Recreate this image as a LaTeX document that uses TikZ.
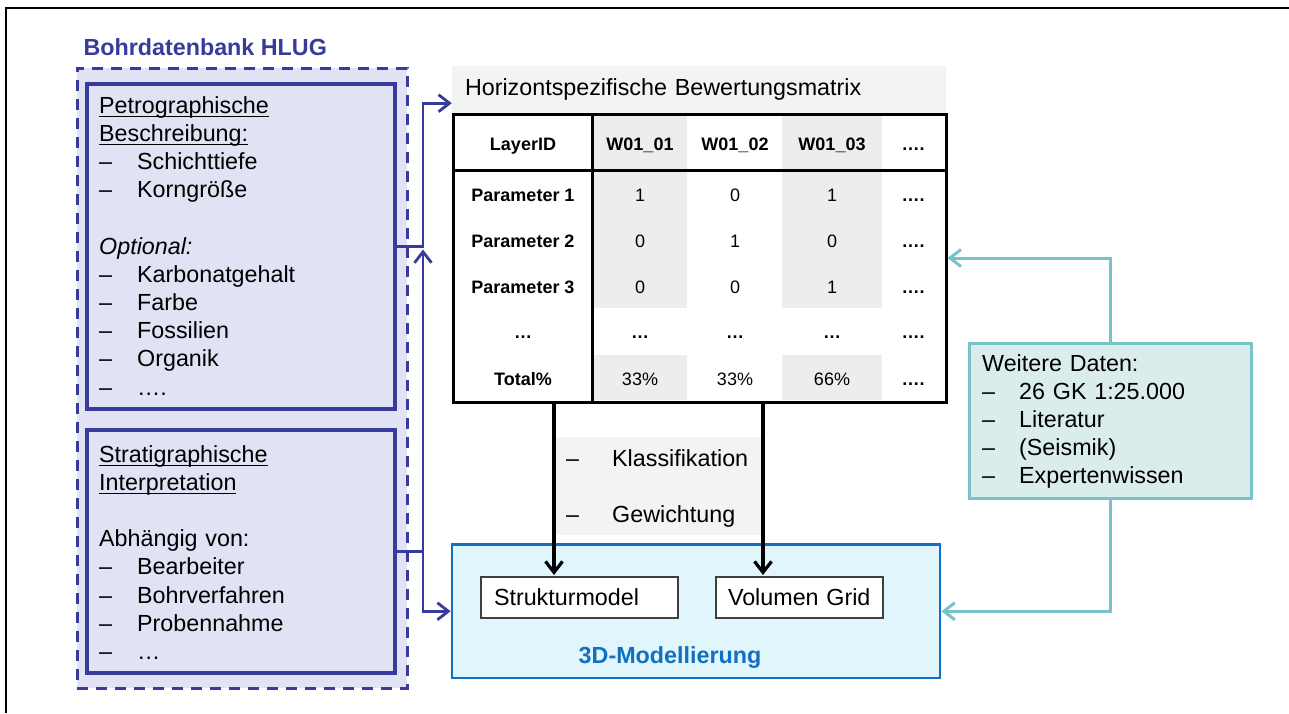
\documentclass[tikz,border=0pt]{standalone}
\usepackage{fontspec}
\setmainfont{Liberation Sans}
\usetikzlibrary{
  arrows.meta,
  calc,
  positioning,
}
\definecolor{hlugblue}{HTML}{383B9C}
\definecolor{hlugfill}{HTML}{E1E2F4}
\definecolor{headgray}{HTML}{F2F4F2}
\definecolor{cellgray}{HTML}{EDEDED}
\definecolor{modblue}{HTML}{1270C0}
\definecolor{modfill}{HTML}{E1F5FC}
\definecolor{datateal}{HTML}{78C3C7}
\definecolor{datafill}{HTML}{DAECEC}
\newcommand\undl[1]{\leavevmode\setbox0\hbox{#1}\rlap{\rule[-3.8pt]{\wd0}{1.3pt}}#1}
\newcommand\dashitem[2][38pt]{\makebox[#1][l]{–}#2}

\begin{document}
\begin{tikzpicture}[x=1pt,y=-1pt,
  font=\fontsize{23.3}{28.2}\selectfont,>={Straight Barb[length=11pt,width=17pt]},
  group/.style={draw=hlugblue,fill=hlugfill,line width=3pt,
    dash pattern=on 11pt off 8pt},
  src/.style={draw=hlugblue,fill=hlugfill,line width=3.3pt},
  txt/.style={anchor=base west,align=left,inner sep=0pt,text width=280pt},
  cell/.style={anchor=base,inner sep=0pt,font=\fontsize{18}{22}\selectfont},
  hcell/.style={cell,font=\fontsize{18}{22}\selectfont\bfseries},
  res/.style={draw=black!75,fill=white,line width=1.5pt,minimum height=41pt,
    align=left},
  link/.style={draw=hlugblue,line width=2.8pt,->},
  feed/.style={draw=datateal,line width=3pt,->},
  flow/.style={draw=black,line width=3.2pt,->}]
  \useasboundingbox (0,0) rectangle (1289,713);
  \draw[line width=2pt] (6,713) -- (6,8) -- (1289,8);
  %%
  \node[group,minimum width=330pt,minimum height=620pt] (bohr) at (242,378) {};
  \node[anchor=base west,text=hlugblue,font=\fontsize{23.3}{28}\selectfont\bfseries]
    (bohrtitle) at (80,55) {Bohrdatenbank HLUG};
  \node[src,minimum width=308pt,minimum height=325pt] (petro) at (241,246.5) {};
  \node[src,minimum width=308pt,minimum height=243pt] (strat) at (241,551.5) {};
  \node[txt] (petrotxt) at (99,113)
    {\undl{Petrographische}\\
     \undl{Beschreibung:}\\
     \dashitem{Schichttiefe}\\
     \dashitem{Korngröße}\\
     \mbox{}\\
     \textit{Optional:}\\
     \dashitem{Karbonatgehalt}\\
     \dashitem{Farbe}\\
     \dashitem{Fossilien}\\
     \dashitem{Organik}\\
     \dashitem{….}};
  \node[txt] (strattxt) at (99,462)
    {\undl{Stratigraphische}\\
     \undl{Interpretation}\\
     \mbox{}\\
     Abhängig von:\\
     \dashitem{Bearbeiter}\\
     \dashitem{Bohrverfahren}\\
     \dashitem{Probennahme}\\
     \dashitem{…}};
  %%
  \node[fill=headgray,minimum width=494pt,minimum height=47pt,text width=468pt,
    inner xsep=13pt,align=left] (title) at (699,89.5)
    {Horizontspezifische Bewertungsmatrix};
  \fill[cellgray] (594,116) rectangle (687,308);
  \fill[cellgray] (594,355) rectangle (687,400);
  \fill[cellgray] (782,116) rectangle (882,308);
  \fill[cellgray] (782,355) rectangle (882,400);
  \node[draw,line width=3pt,minimum width=493pt,minimum height=288pt]
    (bwm) at (699.5,258) {};
  \draw[line width=3pt] (592,114) -- (592,402);
  \draw[line width=3pt] (453,170) -- (946,170);
  \node[hcell] (h0) at (523,150) {LayerID};
  \node[hcell] (h1) at (640,150) {W01\_01};
  \node[hcell] (h2) at (735,150) {W01\_02};
  \node[hcell] (h3) at (832,150) {W01\_03};
  \node[hcell] (h4) at (913,150) {….};
  \node[hcell] (a0) at (523,201.5) {Parameter 1};
  \node[cell] (a1) at (640,201.5) {1};
  \node[cell] (a2) at (735,201.5) {0};
  \node[cell] (a3) at (832,201.5) {1};
  \node[hcell] (a4) at (913,201.5) {….};
  \node[hcell] (b0) at (523,247.5) {Parameter 2};
  \node[cell] (b1) at (640,247.5) {0};
  \node[cell] (b2) at (735,247.5) {1};
  \node[cell] (b3) at (832,247.5) {0};
  \node[hcell] (b4) at (913,247.5) {….};
  \node[hcell] (c0) at (523,293.5) {Parameter 3};
  \node[cell] (c1) at (640,293.5) {0};
  \node[cell] (c2) at (735,293.5) {0};
  \node[cell] (c3) at (832,293.5) {1};
  \node[hcell] (c4) at (913,293.5) {….};
  \node[hcell] (d0) at (523,338.5) {…};
  \node[hcell] (d1) at (640,338.5) {…};
  \node[hcell] (d2) at (735,338.5) {…};
  \node[hcell] (d3) at (832,338.5) {…};
  \node[hcell] (d4) at (913,338.5) {….};
  \node[hcell] (t0) at (523,385) {Total\%};
  \node[cell] (t1) at (640,385) {33\%};
  \node[cell] (t2) at (735,385) {33\%};
  \node[cell] (t3) at (832,385) {66\%};
  \node[hcell] (t4) at (913,385) {….};
  %%
  \node[fill=headgray,minimum width=207pt,minimum height=98pt] (klass) at (658.5,486) {};
  \node[txt,text width=190pt] (klasstxt) at (566,466)
    {\dashitem[46pt]{Klassifikation}\\
     \mbox{}\\
     \dashitem[46pt]{Gewichtung}};
  %%
  \node[draw=modblue,fill=modfill,line width=2.7pt,minimum width=488pt,
    minimum height=133.5pt] (model) at (696,611.25) {};
  \node[res,text width=171pt,inner xsep=13pt] (struct) at (579.5,597.5) {Strukturmodel};
  \node[res,text width=143pt,inner xsep=12pt] (grid) at (799.5,597.5) {Volumen Grid};
  \node[anchor=base,text=modblue,font=\fontsize{23.3}{28}\selectfont\bfseries]
    (modlabel) at (670,663) {3D-Modellierung};
  %%
  \node[draw=datateal,fill=datafill,line width=3pt,minimum width=282pt,
    minimum height=155pt] (data) at (1110,420.5) {};
  \node[txt,text width=260pt] (datatxt) at (982,371)
    {Weitere Daten:\\
     \dashitem[37pt]{26 GK 1:25.000}\\
     \dashitem[37pt]{Literatur}\\
     \dashitem[37pt]{(Seismik)}\\
     \dashitem[37pt]{Expertenwissen}};
  %%
  \coordinate (bus) at (423,400);
  \coordinate (k1) at (554,575);
  \coordinate (k2) at (763,575);
  \draw[link] (petro.east) -- (petro.east -| bus)
    |- ([yshift=10pt]title.south west);
  \draw[link] (strat.east) -- (strat.east -| bus)
    -- ([yshift=-3pt]petro.east -| bus);
  \draw[link] (strat.east -| bus) |- (model.west);
  \draw[feed] (data.north) |- (bwm.east);
  \draw[feed] (data.south) |- (model.east);
  \draw[flow] (bwm.south -| k1) -- (k1);
  \draw[flow] (bwm.south -| k2) -- (k2);
\end{tikzpicture}
\end{document}
